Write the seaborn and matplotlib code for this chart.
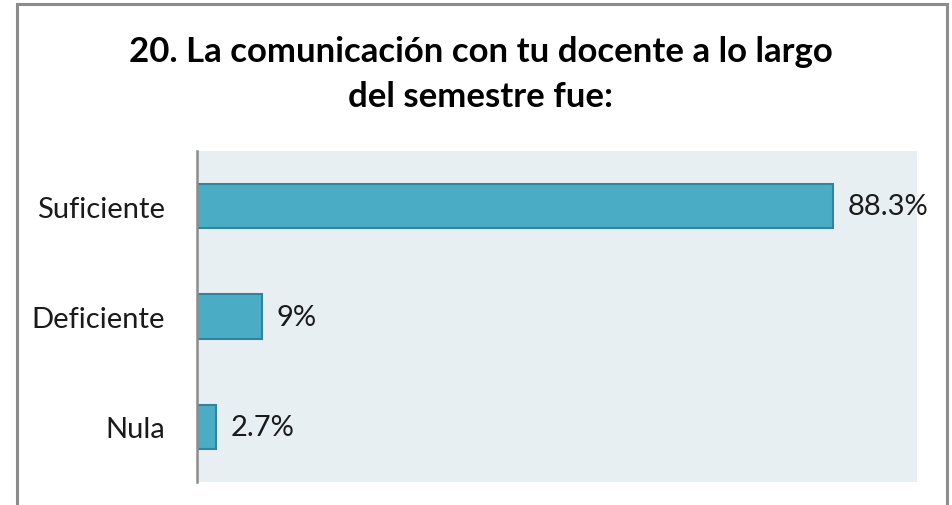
import pandas as pd
import seaborn as sns
import matplotlib.pyplot as plt
from matplotlib.patches import Rectangle

categorias = ["Suficiente", "Deficiente", "Nula"]
valores = [88.3, 9, 2.7]
etiquetas = ["88.3%", "9%", "2.7%"]

df = pd.DataFrame({"categoria": categorias, "valor": valores})

sns.set_style("white")
plt.rcParams["font.family"] = ["Lato", "DejaVu Sans"]

W, H = 953, 506
fig = plt.figure(figsize=(W / 100, H / 100), dpi=100)

# marco gris del grafico
fig.patches.append(Rectangle((17 / W, -0.05), (947 - 17) / W, 1.05 - 5 / H,
                             transform=fig.transFigure, fill=False,
                             edgecolor="#8c8c8c", linewidth=2.2))

ax = fig.add_axes([197 / W, 1 - 483 / H, (917 - 197) / W, (483 - 152) / H])
ax.set_facecolor("#e8eff3")

sns.barplot(data=df, y="categoria", x="valor", orient="h", ax=ax,
            color="#4bacc6", width=0.4, saturation=1,
            edgecolor="#31849b", linewidth=1.5)

ax.set_xlim(0, 100)
ax.set_ylim(2.5, -0.5)
ax.set_xlabel("")
ax.set_ylabel("")
ax.set_xticks([])
ax.tick_params(axis="y", length=0, labelsize=21, pad=23, colors="#1a1a1a")

for s in ["top", "right", "bottom"]:
    ax.spines[s].set_visible(False)
ax.spines["left"].set_color("#8c8c8c")
ax.spines["left"].set_linewidth(1.8)

for i, (v, t) in enumerate(zip(valores, etiquetas)):
    ax.text(v + 2, i, t, va="center", ha="left", fontsize=21, color="#1a1a1a")

fig.text(481 / W, 1 - 52 / H, "20. La comunicación con tu docente a lo largo",
         ha="center", va="center", fontsize=25, fontweight="bold", color="black")
fig.text(481 / W, 1 - 97 / H, "del semestre fue:",
         ha="center", va="center", fontsize=25, fontweight="bold", color="black")

fig.savefig("out.png", dpi=100)
